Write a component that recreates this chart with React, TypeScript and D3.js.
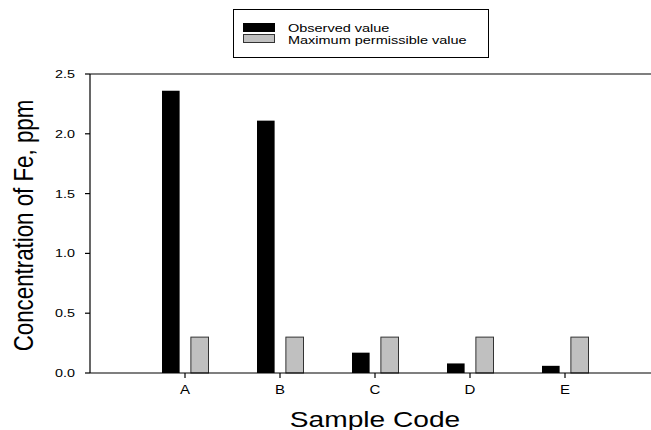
import { useEffect, useRef } from "react"
import * as d3 from "d3"

// valores
const categorias = ["A", "B", "C", "D", "E"]
const observado = [2.36, 2.11, 0.17, 0.08, 0.06]
const maximoPermisible = [0.3, 0.3, 0.3, 0.3, 0.3]
const series = ["Observed value", "Maximum permissible value"]
const colores = ["#000000", "#c0c0c0"]
const yTicks = [0, 0.5, 1.0, 1.5, 2.0, 2.5]

const FONT = "'Liberation Sans', Arial, sans-serif"
// la imagen original está estirada en horizontal
const SX = 1.25

export default function App() {
  const svgRef = useRef<SVGSVGElement>(null)

  useEffect(() => {
    if (!svgRef.current) return
    const svg = d3.select(svgRef.current)
    svg.selectAll("*").remove()

    const left = 90
    const right = 660
    const top = 74
    const bottom = 373

    const x = d3.scaleLinear().domain([0, categorias.length + 1]).range([left, right])
    const y = d3.scaleLinear().domain([0, 2.5]).range([bottom, top])
    const inner = d3.scaleBand().domain(series).range([-23, 23.5]).paddingInner(0.39)

    const datos = categorias.map((c, i) => ({ c, i, vals: [observado[i], maximoPermisible[i]] }))

    // barras
    datos.forEach((d) => {
      d.vals.forEach((v, s) => {
        svg
          .append("rect")
          .attr("x", x(d.i + 1) + (inner(series[s]) || 0))
          .attr("y", y(v))
          .attr("width", inner.bandwidth())
          .attr("height", y(0) - y(v))
          .attr("fill", colores[s])
          .attr("stroke", s === 1 ? "#333" : "none")
          .attr("stroke-width", 1)
      })
    })

    // ejes
    const ax = svg.append("g").attr("stroke", "#000").attr("stroke-width", 1.2)
    ax.append("line").attr("x1", left).attr("x2", right).attr("y1", bottom).attr("y2", bottom)
    ax.append("line").attr("x1", left).attr("x2", right).attr("y1", top).attr("y2", top)
    ax.append("line").attr("x1", left).attr("x2", left).attr("y1", top).attr("y2", bottom)

    yTicks.forEach((t) => {
      ax.append("line").attr("x1", left - 5).attr("x2", left).attr("y1", y(t)).attr("y2", y(t))
      svg
        .append("text")
        .attr("transform", `translate(75,${y(t) + 4}) scale(${SX},1)`)
        .attr("text-anchor", "end")
        .attr("font-family", FONT)
        .attr("font-size", 11.5)
        .text(d3.format(".1f")(t))
    })

    categorias.forEach((c, i) => {
      ax.append("line").attr("x1", x(i + 1)).attr("x2", x(i + 1)).attr("y1", bottom).attr("y2", bottom + 5)
      svg
        .append("text")
        .attr("transform", `translate(${x(i + 1)},394) scale(${SX},1)`)
        .attr("text-anchor", "middle")
        .attr("font-family", FONT)
        .attr("font-size", 12)
        .text(c)
    })

    // títulos
    svg
      .append("text")
      .attr("transform", `translate(${(left + right) / 2},427) scale(${SX},1)`)
      .attr("text-anchor", "middle")
      .attr("font-family", FONT)
      .attr("font-size", 22.5)
      .text("Sample Code")

    svg
      .append("text")
      .attr("transform", `translate(33,${(top + bottom) / 2 + 2}) rotate(-90) scale(1,${SX})`)
      .attr("text-anchor", "middle")
      .attr("font-family", FONT)
      .attr("font-size", 22.3)
      .text("Concentration of Fe, ppm")

    // leyenda
    const leg = svg.append("g")
    leg
      .append("rect")
      .attr("x", 233.5)
      .attr("y", 9.5)
      .attr("width", 255)
      .attr("height", 48)
      .attr("fill", "#fff")
      .attr("stroke", "#000")
    series.forEach((s, i) => {
      leg
        .append("rect")
        .attr("x", 243.5)
        .attr("y", 23.5 + i * 11)
        .attr("width", 31)
        .attr("height", 8)
        .attr("fill", colores[i])
        .attr("stroke", i === 1 ? "#333" : "#000")
      leg
        .append("text")
        .attr("transform", `translate(288,${31.5 + i * 12}) scale(1.38,1)`)
        .attr("font-family", FONT)
        .attr("font-size", 10.5)
        .text(s)
    })
  }, [])

  return (
    <svg
      ref={svgRef}
      width={651}
      height={430}
      style={{ position: "absolute", left: 0, top: 0, background: "#fff" }}
    />
  )
}
